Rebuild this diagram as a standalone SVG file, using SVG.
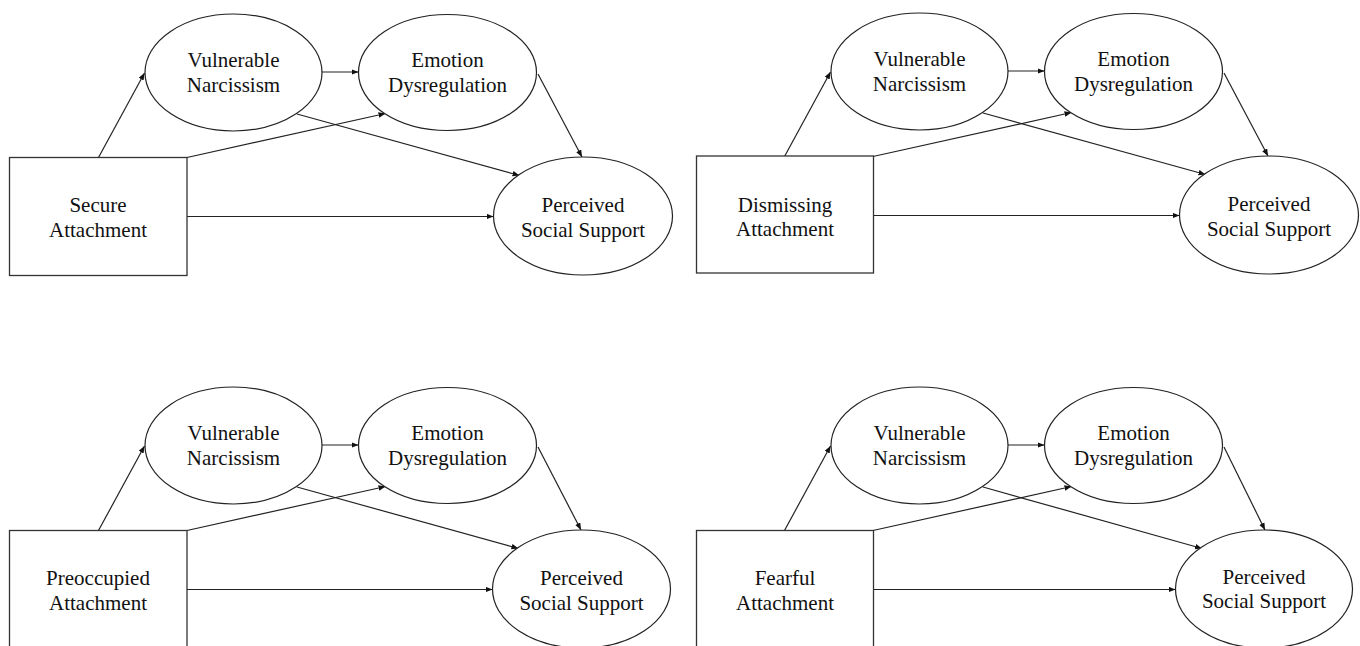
<svg xmlns="http://www.w3.org/2000/svg" width="1360" height="646" viewBox="0 0 1360 646">
  <style>
    .box { fill: #ffffff; stroke: #333333; stroke-width: 1.3; }
    .ell { fill: #ffffff; stroke: #222222; stroke-width: 1.2; }
    .lbl { font-family: "Liberation Serif", "Times New Roman", "DejaVu Serif", serif; font-size: 21px; fill: #111111; text-anchor: middle; }
    .edge { fill: none; stroke: #222222; stroke-width: 1.2; marker-end: url(#arr); }
  </style>
  <defs>
    <marker id="arr" markerUnits="userSpaceOnUse" markerWidth="8" markerHeight="6" refX="7" refY="3" orient="auto">
      <path d="M0,0.2 L7,3 L0,5.8 z" fill="#111111"/>
    </marker>
  </defs>
  <rect width="1360" height="646" fill="#ffffff"/>

  <!-- Panel 1: Secure -->
  <g id="panel-secure">
    <g id="p1-connectors">
      <line class="edge" x1="98.5" y1="157.5" x2="144.5" y2="73"/>
      <line class="edge" x1="322" y1="72" x2="358.5" y2="72"/>
      <line class="edge" x1="187" y1="157.5" x2="385.5" y2="113.5"/>
      <line class="edge" x1="297" y1="114" x2="519.5" y2="175.5"/>
      <line class="edge" x1="538" y1="74" x2="582" y2="157"/>
      <line class="edge" x1="187" y1="216.5" x2="493.5" y2="216.5"/>
    </g>
    <g id="p1-attachment">
      <rect class="box" x="9.5" y="157.5" width="177.5" height="118"/>
      <text class="lbl" x="98" y="212">Secure</text>
      <text class="lbl" x="98" y="236.5">Attachment</text>
    </g>
    <g id="p1-vn">
      <ellipse class="ell" cx="233.5" cy="72.5" rx="88.5" ry="58.5"/>
      <text class="lbl" x="233.5" y="67">Vulnerable</text>
      <text class="lbl" x="233.5" y="92">Narcissism</text>
    </g>
    <g id="p1-ed">
      <ellipse class="ell" cx="447.5" cy="72.5" rx="89" ry="58"/>
      <text class="lbl" x="447.5" y="67">Emotion</text>
      <text class="lbl" x="447.5" y="92">Dysregulation</text>
    </g>
    <g id="p1-pss">
      <ellipse class="ell" cx="583" cy="216" rx="89.5" ry="59"/>
      <text class="lbl" x="583" y="212">Perceived</text>
      <text class="lbl" x="583" y="236.5">Social Support</text>
    </g>
  </g>

  <!-- Panel 2: Dismissing -->
  <g id="panel-dismissing" transform="translate(686,-1)">
    <g id="p2-connectors">
      <line class="edge" x1="98.5" y1="157.5" x2="144.5" y2="73"/>
      <line class="edge" x1="322" y1="72" x2="358.5" y2="72"/>
      <line class="edge" x1="187" y1="157.5" x2="385.5" y2="113.5"/>
      <line class="edge" x1="297" y1="114" x2="519.5" y2="175.5"/>
      <line class="edge" x1="538" y1="74" x2="582" y2="157"/>
      <line class="edge" x1="187" y1="216.5" x2="493.5" y2="216.5"/>
    </g>
    <g id="p2-attachment">
      <rect class="box" x="10.5" y="157" width="177" height="117"/>
      <text class="lbl" x="99" y="212.5">Dismissing</text>
      <text class="lbl" x="99" y="236.5">Attachment</text>
    </g>
    <g id="p2-vn">
      <ellipse class="ell" cx="233.5" cy="72.5" rx="88.5" ry="58.5"/>
      <text class="lbl" x="233.5" y="67">Vulnerable</text>
      <text class="lbl" x="233.5" y="92">Narcissism</text>
    </g>
    <g id="p2-ed">
      <ellipse class="ell" cx="447.5" cy="72.5" rx="89" ry="58"/>
      <text class="lbl" x="447.5" y="67">Emotion</text>
      <text class="lbl" x="447.5" y="92">Dysregulation</text>
    </g>
    <g id="p2-pss">
      <ellipse class="ell" cx="583" cy="216" rx="89.5" ry="59"/>
      <text class="lbl" x="583" y="212">Perceived</text>
      <text class="lbl" x="583" y="236.5">Social Support</text>
    </g>
  </g>

  <!-- Panel 3: Preoccupied -->
  <g id="panel-preoccupied" transform="translate(0,373)">
    <g id="p3-connectors">
      <line class="edge" x1="98.5" y1="157.5" x2="144.5" y2="73"/>
      <line class="edge" x1="322" y1="72" x2="358.5" y2="72"/>
      <line class="edge" x1="187" y1="157.5" x2="385.5" y2="113.5"/>
      <line class="edge" x1="297" y1="114" x2="518.5" y2="175.5"/>
      <line class="edge" x1="538" y1="74" x2="581" y2="157"/>
      <line class="edge" x1="187" y1="216.5" x2="492.5" y2="216.5"/>
    </g>
    <g id="p3-attachment">
      <rect class="box" x="9.5" y="157.5" width="177.5" height="130"/>
      <text class="lbl" x="98" y="212">Preoccupied</text>
      <text class="lbl" x="98" y="236.5">Attachment</text>
    </g>
    <g id="p3-vn">
      <ellipse class="ell" cx="233.5" cy="72.5" rx="88.5" ry="58.5"/>
      <text class="lbl" x="233.5" y="67">Vulnerable</text>
      <text class="lbl" x="233.5" y="92">Narcissism</text>
    </g>
    <g id="p3-ed">
      <ellipse class="ell" cx="447.5" cy="72.5" rx="89" ry="58"/>
      <text class="lbl" x="447.5" y="67">Emotion</text>
      <text class="lbl" x="447.5" y="92">Dysregulation</text>
    </g>
    <g id="p3-pss">
      <ellipse class="ell" cx="581.5" cy="216" rx="89" ry="59"/>
      <text class="lbl" x="581.5" y="212">Perceived</text>
      <text class="lbl" x="581.5" y="236.5">Social Support</text>
    </g>
  </g>

  <!-- Panel 4: Fearful -->
  <g id="panel-fearful" transform="translate(686,373)">
    <g id="p4-connectors">
      <line class="edge" x1="98.5" y1="157.5" x2="144.5" y2="73"/>
      <line class="edge" x1="322" y1="72" x2="358.5" y2="72"/>
      <line class="edge" x1="187" y1="157.5" x2="385.5" y2="113.5"/>
      <line class="edge" x1="297" y1="114" x2="516" y2="175.5"/>
      <line class="edge" x1="538" y1="74" x2="579" y2="157"/>
      <line class="edge" x1="187" y1="216.5" x2="489.5" y2="216.5"/>
    </g>
    <g id="p4-attachment">
      <rect class="box" x="10.5" y="157.5" width="177" height="130"/>
      <text class="lbl" x="99" y="212">Fearful</text>
      <text class="lbl" x="99" y="236.5">Attachment</text>
    </g>
    <g id="p4-vn">
      <ellipse class="ell" cx="233.5" cy="72.5" rx="88.5" ry="58.5"/>
      <text class="lbl" x="233.5" y="67">Vulnerable</text>
      <text class="lbl" x="233.5" y="92">Narcissism</text>
    </g>
    <g id="p4-ed">
      <ellipse class="ell" cx="447.5" cy="72.5" rx="89" ry="58"/>
      <text class="lbl" x="447.5" y="67">Emotion</text>
      <text class="lbl" x="447.5" y="92">Dysregulation</text>
    </g>
    <g id="p4-pss">
      <ellipse class="ell" cx="578" cy="216" rx="88.5" ry="59"/>
      <text class="lbl" x="578" y="211">Perceived</text>
      <text class="lbl" x="578" y="235">Social Support</text>
    </g>
  </g>
</svg>
